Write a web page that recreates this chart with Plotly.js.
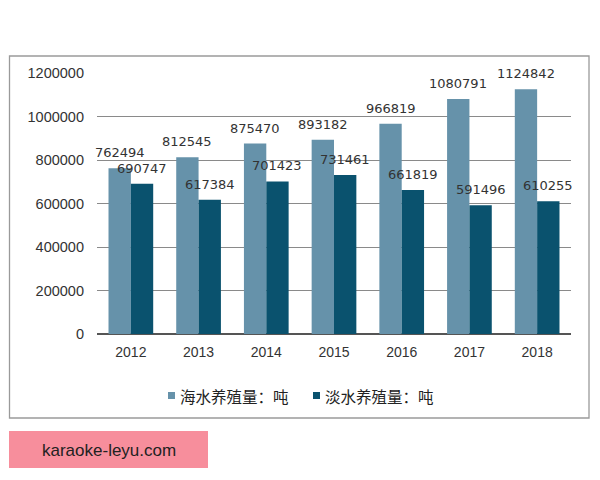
<!DOCTYPE html>
<html><head><meta charset="utf-8">
<script src="https://cdn.plot.ly/plotly-3.0.1.min.js"></script>
<style>html,body{margin:0;padding:0;background:#fff;}#chart{width:600px;height:480px;}</style>
</head><body><div id="chart"></div>
<script>
const years = ['2012','2013','2014','2015','2016','2017','2018'];
const seaValues = [762494, 812545, 875470, 893182, 966819, 1080791, 1124842];
const freshValues = [690747, 617384, 701423, 731461, 661819, 591496, 610255];
const seriesNames = ['海水养殖量：吨', '淡水养殖量：吨'];
const seriesColors = ['#6692aa', '#0a526e'];
const watermark = 'karaoke-leyu.com';

const numFont = 'Arial, "Liberation Sans", sans-serif';
const labelFont = '"DejaVu Sans", Verdana, sans-serif';
const cjkFont = '"Noto Sans CJK SC", sans-serif';

const mk = (name, vals, color) => ({
  type: 'bar', name: name, x: years, y: vals,
  marker: {color: color}, hoverinfo: 'none', showlegend: false
});
const data = [mk(seriesNames[0], seaValues, seriesColors[0]), mk(seriesNames[1], freshValues, seriesColors[1])];

const X = px => (px - 97) / 474;
const Y = py => (334 - py) / 261;

// bar geometry for label placement
const plotW = 474, bargap = 0.34;
const catW = plotW / years.length;
const barW = catW * (1 - bargap) / 2;

const annotations = [];
[seaValues, freshValues].forEach((vals, si) => {
  vals.forEach((v, i) => {
    annotations.push({
      xref: 'x', yref: 'y', x: i, y: v, xanchor: 'center', yanchor: 'bottom',
      xshift: (si === 0 ? -1 : 1) * barW / 2, yshift: 6,
      text: String(v), showarrow: false,
      font: {family: labelFont, size: 13, color: '#333'}
    });
  });
});
annotations.push({xref: 'paper', yref: 'paper', x: X(109), y: Y(450), xanchor: 'center', yanchor: 'middle',
  text: watermark, showarrow: false, font: {family: numFont, size: 17, color: '#222'}});

// custom legend
const legendSq = [168, 313];
const shapes = [
  {type: 'rect', xref: 'paper', yref: 'paper', x0: X(9.5), x1: X(589), y0: Y(418), y1: Y(56),
   line: {color: '#9a9a9a', width: 1.3}, fillcolor: 'rgba(0,0,0,0)', layer: 'below'},
  {type: 'rect', xref: 'paper', yref: 'paper', x0: X(9), x1: X(208), y0: Y(468), y1: Y(431),
   line: {width: 0}, fillcolor: '#f78e9c', layer: 'below'}
];
seriesNames.forEach((n, k) => {
  shapes.push({type: 'rect', xref: 'paper', yref: 'paper',
    x0: X(legendSq[k]), x1: X(legendSq[k] + 7), y0: Y(399), y1: Y(392),
    line: {width: 0}, fillcolor: seriesColors[k]});
  annotations.push({xref: 'paper', yref: 'paper', x: X(legendSq[k] + 10), y: Y(395.5),
    xanchor: 'left', yanchor: 'middle', text: n, showarrow: false,
    font: {family: cjkFont, size: 15.5, color: '#222'}});
});

const layout = {
  width: 600, height: 480,
  margin: {l: 97, r: 29, t: 73, b: 146},
  paper_bgcolor: '#fff', plot_bgcolor: '#fff',
  barmode: 'group', bargap: bargap, bargroupgap: 0,
  showlegend: false,
  xaxis: {type: 'category', categoryarray: years, range: [-0.5, years.length - 0.5],
          showgrid: false, showline: false, zeroline: false,
          tickfont: {family: numFont, size: 14, color: '#333'}, ticks: '', ticklabelstandoff: 8},
  yaxis: {range: [0, 1200000], tickvals: [0,200000,400000,600000,800000,1000000,1200000],
          ticktext: ['0','200000','400000','600000','800000','1000000','1200000'],
          showgrid: true, gridcolor: '#8a8a8a', gridwidth: 1,
          zeroline: true, zerolinecolor: '#555', zerolinewidth: 1.5,
          showline: false, ticks: '', ticklabelstandoff: 12,
          tickfont: {family: numFont, size: 14.5, color: '#333'}},
  shapes: shapes,
  annotations: annotations
};

Plotly.newPlot('chart', data, layout, {displayModeBar: false, staticPlot: true});
</script></body></html>
